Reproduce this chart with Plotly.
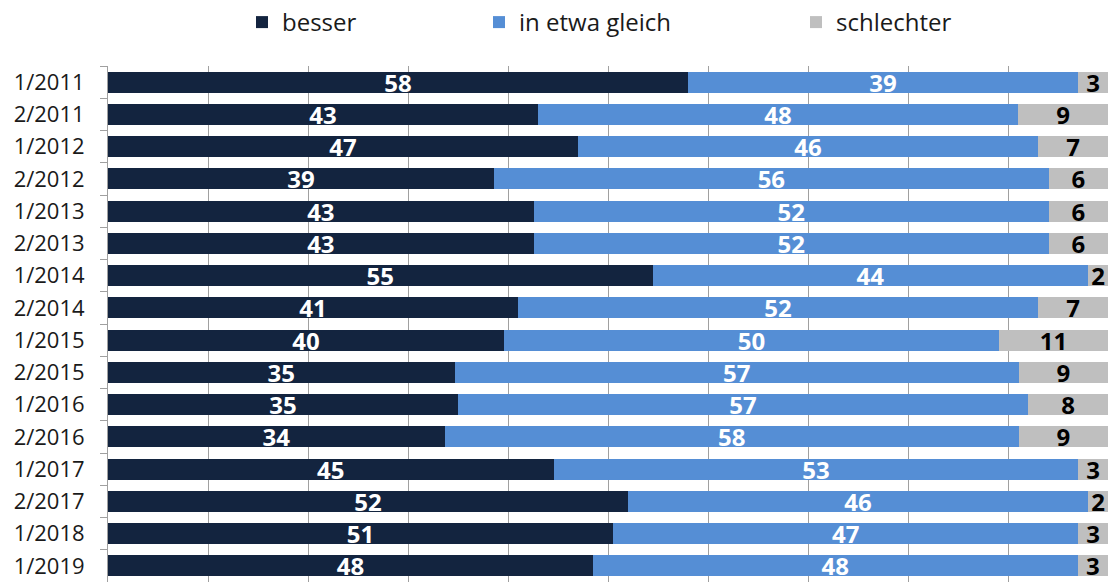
import plotly.graph_objects as go

categories = ["1/2011", "2/2011", "1/2012", "2/2012", "1/2013", "2/2013", "1/2014", "2/2014",
              "1/2015", "2/2015", "1/2016", "2/2016", "1/2017", "2/2017", "1/2018", "1/2019"]
besser = [58, 43, 47, 39, 43, 43, 55, 41, 40, 35, 35, 34, 45, 52, 51, 48]
gleich = [39, 48, 46, 56, 52, 52, 44, 52, 50, 57, 57, 58, 53, 46, 47, 48]
schlechter = [3, 9, 7, 6, 6, 6, 2, 7, 11, 9, 8, 9, 3, 2, 3, 3]

series_names = ["besser", "in etwa gleich", "schlechter"]
series_values = [besser, gleich, schlechter]
colors = ["#13243F", "#558ED5", "#BFBFBF"]
text_colors = ["white", "white", "black"]
legend_ids = ["legend", "legend2", "legend3"]

FONT = "Open Sans"

fig = go.Figure()
for name, vals, col, tcol, lg in zip(series_names, series_values, colors, text_colors, legend_ids):
    fig.add_trace(go.Bar(
        y=categories, x=vals, name=name, orientation="h",
        marker=dict(color=col, line=dict(width=0)),
        text=[str(v) for v in vals], texttemplate="%{text}",
        textposition="inside", insidetextanchor="middle", textangle=0,
        textfont=dict(family=FONT, size=24, color=tcol, weight="bold"),
        legend=lg, hoverinfo="skip", showlegend=True,
    ))

W, H = 1109, 582
ml, mr, mt, mb = 108, 0, 64, 0
pw, ph = W - ml - mr, H - mt - mb

def lx(px):
    return (px - ml) / pw

ly = (H - mb - 20) / ph
leg_common = dict(orientation="h", yanchor="middle", y=ly, xanchor="left",
                  font=dict(family=FONT, size=24, color="#1a1a1a"),
                  bgcolor="rgba(0,0,0,0)", borderwidth=0, itemclick=False)

fig.update_layout(
    width=W, height=H,
    margin=dict(l=ml, r=mr, t=mt, b=mb, pad=0),
    template="none",
    showlegend=True,
    paper_bgcolor="white", plot_bgcolor="white",
    barmode="stack", barnorm="percent", bargap=0.35,
    uniformtext=dict(minsize=24, mode="show"),
    legend=dict(x=lx(242), **leg_common),
    legend2=dict(x=lx(479), **leg_common),
    legend3=dict(x=lx(796), **leg_common),
    xaxis=dict(range=[0, 100.1], dtick=10, showgrid=True, gridcolor="#A0A0A0", gridwidth=1,
               showticklabels=False, zeroline=False, showline=False, ticks=""),
    yaxis=dict(autorange=False, range=[15.5, -0.5], type="category",
               showline=True, linecolor="#A0A0A0", linewidth=1,
               ticks="outside", tickson="boundaries", ticklen=7, tickcolor="#A0A0A0",
               showgrid=False, zeroline=False,
               tickfont=dict(family=FONT, size=22, color="#1a1a1a"), ticklabelstandoff=18),
)

fig.write_html("out.html", config={"displayModeBar": False},
               post_script="document.body.style.margin='0px';")
